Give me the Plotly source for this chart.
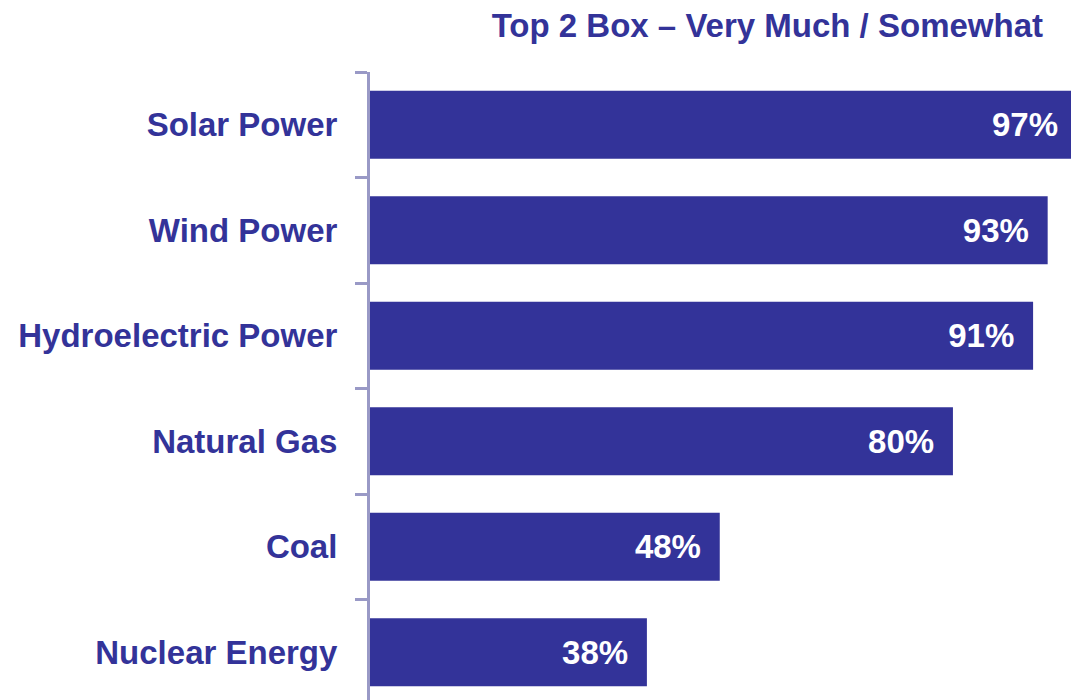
import plotly.graph_objects as go

categories = ["Solar Power", "Wind Power", "Hydroelectric Power", "Natural Gas", "Coal", "Nuclear Energy"]
values = [97, 93, 91, 80, 48, 38]
title_text = "Top 2 Box \u2013 Very Much / Somewhat"

BAR = "#333399"
AXIS = "#9999c6"
FONT = "Liberation Sans, Arial, sans-serif"

# the page body adds an 8px margin, so the figure is sized to fit inside the window
W, H = 1071, 692
BAND = 105.5  # px per category band
top = 64

fig = go.Figure(
    go.Bar(
        x=values,
        y=categories,
        orientation="h",
        marker=dict(color=BAR, line=dict(width=0)),
        texttemplate="<b>%{x}%</b>\u00a0\u2009",
        textposition="inside",
        insidetextanchor="end",
        textfont=dict(family=FONT, size=33, color="white"),
        cliponaxis=False,
        hoverinfo="skip",
    )
)

fig.update_layout(
    width=W,
    height=H,
    margin=dict(l=362, r=0, t=top, b=0),
    paper_bgcolor="white",
    plot_bgcolor="white",
    bargap=0.355,
    showlegend=False,
    title=dict(
        text="<b>" + title_text + "</b>",
        font=dict(family=FONT, size=33, color=BAR),
        xref="container", x=(1043 - 8) / W, xanchor="right",
        yref="container", y=1 - (25 - 8) / H, yanchor="middle",
    ),
)

fig.update_xaxes(
    range=[0, 97.3],
    showticklabels=False, showgrid=False, zeroline=False, showline=False,
)

fig.update_yaxes(
    type="category",
    categoryorder="array",
    categoryarray=categories,
    range=[-0.5 + (H - top) / BAND, -0.5],
    showline=True, linecolor=AXIS, linewidth=3,
    ticks="outside", tickson="boundaries", ticklen=12, tickwidth=3, tickcolor=AXIS,
    ticklabelstandoff=23,
    tickfont=dict(family=FONT, size=33, color=BAR),
    tickprefix="<b>", ticksuffix="</b>",
    showgrid=False, zeroline=False,
)

fig.write_html("out.html")
